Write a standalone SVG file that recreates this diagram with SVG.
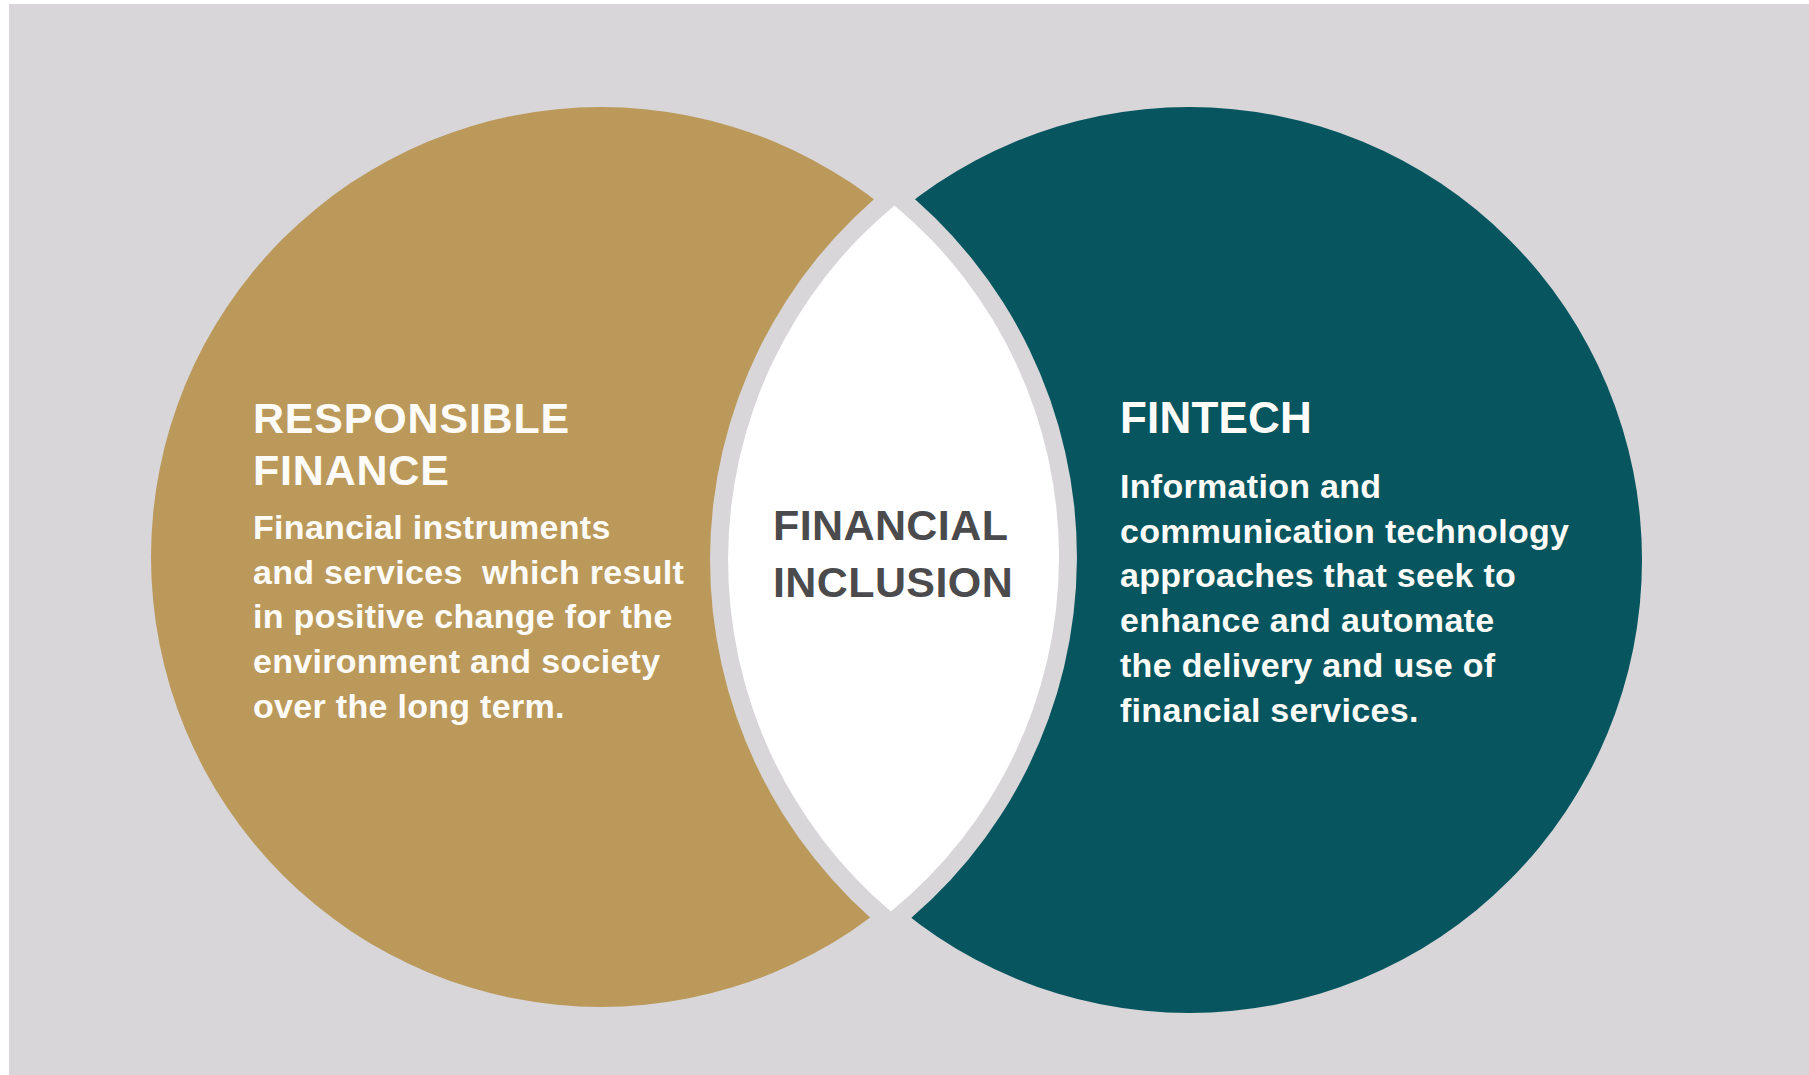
<svg xmlns="http://www.w3.org/2000/svg" width="1809" height="1075" viewBox="0 0 1809 1075">
  <style>
    .title { font-family: "Liberation Sans", Arial, sans-serif; font-weight: bold; font-size: 43px; fill: #fdfcf8; letter-spacing: 0.8px; }
    .body { font-family: "Liberation Sans", Arial, sans-serif; font-weight: bold; font-size: 34px; fill: #fdfcf8; letter-spacing: 0.3px; white-space: pre; }
    .center { font-family: "Liberation Sans", Arial, sans-serif; font-weight: bold; font-size: 43px; fill: #4b4b4d; letter-spacing: 0.4px; }
  </style>
  <rect x="0" y="0" width="1809" height="1075" fill="#ffffff"/>
  <rect x="9" y="4" width="1800" height="1071" fill="#d8d6d9"/>

  <g id="responsible-finance">
    <circle cx="601" cy="557" r="450" fill="#bb995b"/>
  </g>
  <g id="fintech">
    <circle cx="1189" cy="560" r="453" fill="#07555f"/>
  </g>
  <g id="financial-inclusion">
    <path d="M894.5,182.3 A476,476 0 0 1 890.6,934.7 A479,479 0 0 1 894.5,182.3 Z" fill="#d8d6d9"/>
    <path d="M894.5,205.4 A458,458 0 0 1 890.9,911.6 A461,461 0 0 1 894.5,205.4 Z" fill="#ffffff"/>
    <text class="center" x="773" y="540">FINANCIAL</text>
    <text class="center" x="773" y="597">INCLUSION</text>
  </g>
  <g id="responsible-finance-text">
    <text class="title" x="253" y="433">RESPONSIBLE</text>
    <text class="title" x="253" y="485">FINANCE</text>
    <text class="body" x="253" y="539">Financial instruments</text>
    <text class="body" x="253" y="584">and services  which result</text>
    <text class="body" x="253" y="628">in positive change for the</text>
    <text class="body" x="253" y="673">environment and society</text>
    <text class="body" x="253" y="718">over the long term.</text>
  </g>
  <g id="fintech-text">
    <text class="title" x="1120" y="433" style="font-size:44px;letter-spacing:0.2px">FINTECH</text>
    <text class="body" x="1120" y="498">Information and</text>
    <text class="body" x="1120" y="543">communication technology</text>
    <text class="body" x="1120" y="587">approaches that seek to</text>
    <text class="body" x="1120" y="632">enhance and automate</text>
    <text class="body" x="1120" y="677">the delivery and use of</text>
    <text class="body" x="1120" y="722">financial services.</text>
  </g>
  <g id="connectors"/>
</svg>
